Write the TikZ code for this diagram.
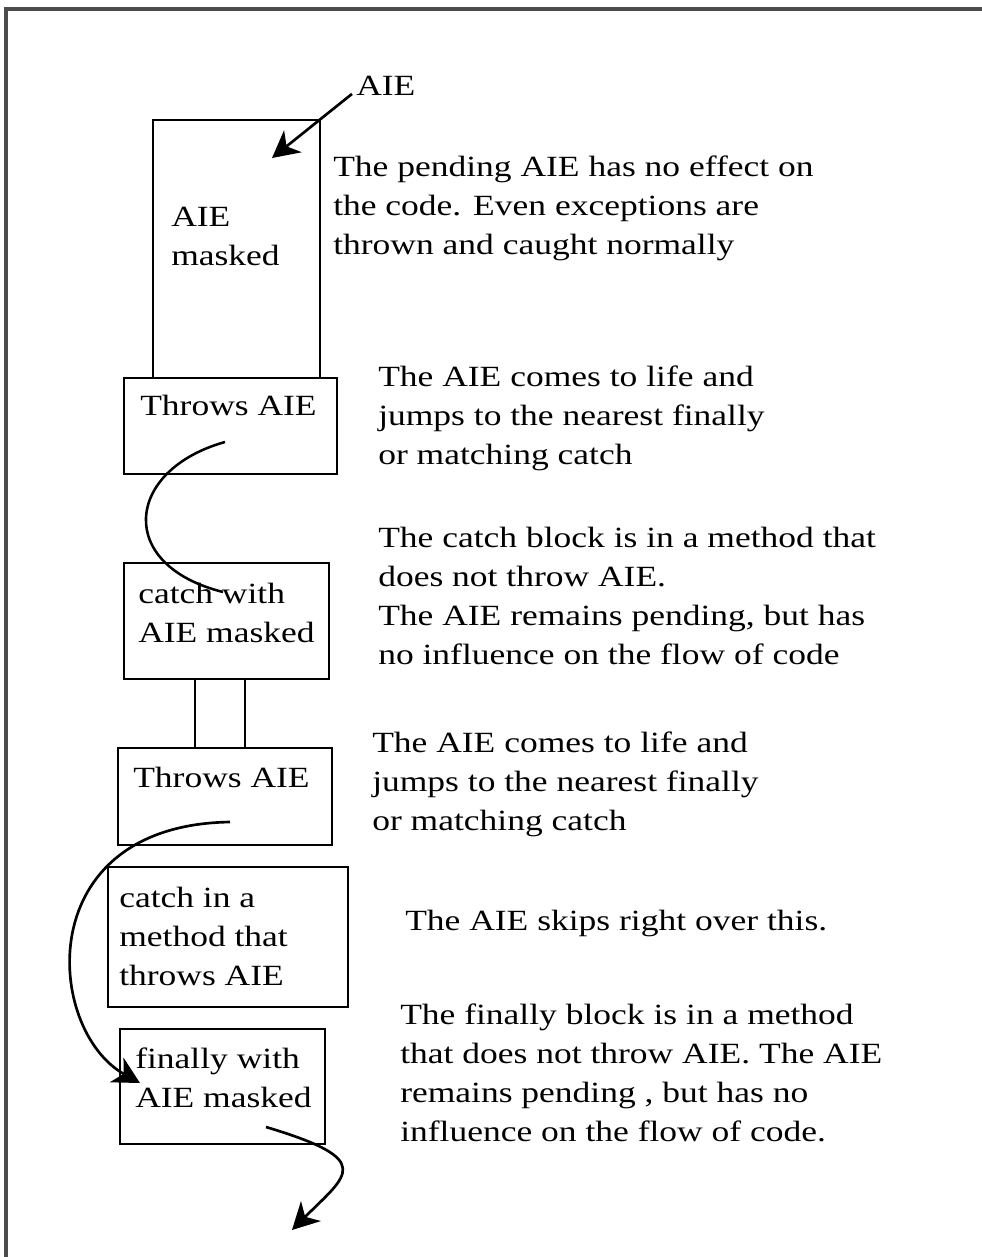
\documentclass[tikz,border=0pt]{standalone}
\usepackage{fontspec}
\setmainfont{Liberation Serif}[FakeStretch=1.21]
\usetikzlibrary{arrows.meta,positioning,fit}
\newcommand{\notefont}{\fontsize{22}{29.2}\selectfont}
\tikzset{
  frm/.style={draw=black!70, line width=2.4pt},
  blk/.style={rectangle, draw=black, line width=2.1pt, inner sep=0pt},
  blktxt/.style={anchor=north west, inner sep=0pt, align=left, font=\notefont},
  note/.style={anchor=north west, inner sep=0pt, align=left, font=\notefont},
  ar/.style={-{Stealth[length=20pt, width=21pt, inset=6pt]}, line width=2pt},
  crv/.style={line width=1.9pt},
}

\begin{document}
\begin{tikzpicture}[x=0.75pt, y=-0.75pt]
\useasboundingbox (0,0) rectangle (982,1257);

% ============================ frame =====================================
\coordinate (fbl) at (6,1257);
\coordinate (ftl) at (6,9);
\coordinate (ftr) at (982,9);
\draw[frm] (fbl) -- (ftl) -- (ftr);

% ============================ code blocks ===============================
\node[blk, fit={(153,120) (320,378)}]  (mask)   {};
\node[blk, fit={(124,378) (337,474)}]  (thr1)   {};
\node[blk, fit={(124,563) (329,679)}]  (catch1) {};
\node[blk, fit={(195,679) (245,748)}]  (link)   {};
\node[blk, fit={(118,748) (332,845)}]  (thr2)   {};
\node[blk, fit={(108,867) (348,1007)}] (catch2) {};
\node[blk, fit={(120,1029) (325,1144)}] (fin)   {};

\node[blktxt] (maskt)   at (171,207)  {AIE\\masked};
\node[blktxt] (thr1t)   at (140,395)  {Throws AIE};
\node[blktxt] (catch1t) at (138,583)  {catch with\\AIE masked};
\node[blktxt] (thr2t)   at (133,767)  {Throws AIE};
\node[blktxt] (catch2t) at (119,887)  {catch in a\\method that\\throws AIE};
\node[blktxt] (fint)    at (135,1048) {finally with\\AIE masked};

% ============================ notes =====================================
\foreach \n/\px/\py/\txt in {%
n1/333/156/{The pending AIE has no effect on\\the code. Even exceptions are\\thrown and caught normally},%
n2/378/366/{The AIE comes to life and\\jumps to the nearest finally\\or matching catch},%
n3/378/527/{The catch block is in a method that\\does not throw AIE.\\The AIE remains pending, but has\\no influence on the flow of code},%
n4/372/732/{The AIE comes to life and\\jumps to the nearest finally\\or matching catch},%
n5/405/910/{The AIE skips right over this.},%
n6/400/1004/{The finally block is in a method\\that does not throw AIE. The AIE\\remains pending , but has no\\influence on the flow of code.}%
}
{
  \node[note] (\n) at (\px,\py) {\txt};
}

% ============================ AIE path ==================================
\node[note] (aie) at (356,76) {AIE};
\coordinate (hit) at (272,158);
\draw[ar] ([shift={(-4,-2)}]aie.south west) -- (hit);

\coordinate (c1a) at (225,442);
\coordinate (c1b) at (223,592);
\draw[crv] (c1a) .. controls (125,470) and (115,565) .. (c1b);

\coordinate (c2a) at (230,822);
\coordinate (c2b) at (140,1083);
\draw[ar] (c2a) .. controls (30,825) and (45,1030) .. (c2b);

\coordinate (c3a) at (266,1127);
\coordinate (c3b) at (292,1230);
\draw[ar] (c3a) .. controls (376,1160) and (348,1174) .. (c3b);

\end{tikzpicture}
\end{document}
